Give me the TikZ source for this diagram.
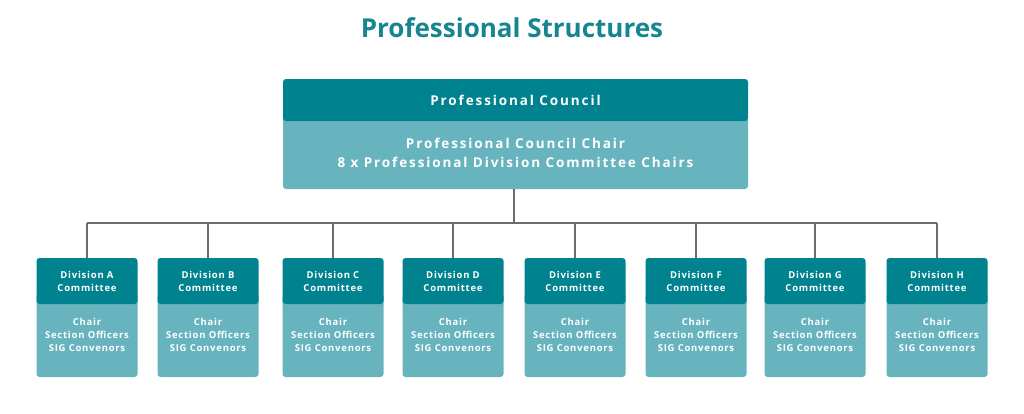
\documentclass[tikz,border=0pt]{standalone}
\usepackage{fontspec}
\setmainfont{Open Sans}
\newfontfamily\wide{Open Sans}[LetterSpace=14]
\newfontfamily\widesm{Open Sans}[LetterSpace=8]
\definecolor{dark}{HTML}{00838F}
\definecolor{light}{HTML}{68B4BE}
\definecolor{ttl}{HTML}{15868F}
\begin{document}
\begin{tikzpicture}[x=1pt,y=-1pt,
  dk/.style={fill=dark,rounded corners=3pt,inner sep=0pt,text=white},
  lt/.style={fill=light,rounded corners=3pt,inner sep=0pt,text=white},
  conn/.style={draw=gray!85!black,line width=1.6pt}]
\useasboundingbox (0,0) rectangle (1024,413);
\node[text=ttl,font=\bfseries\fontsize{26}{30}\selectfont] (title) at (512,28) {Professional Structures};
\node[lt,minimum width=465pt,minimum height=72pt,align=center,font=\wide\bfseries\fontsize{13.5}{19}\selectfont] (chairs) at (515.5,153) {Professional Council Chair\\8 x Professional Division Committee Chairs};
\node[dk,minimum width=465pt,minimum height=42pt,font=\wide\bfseries\fontsize{13.5}{16}\selectfont] (council) at (515.5,100) {Professional Council};
\coordinate (hub) at (514,223);
\draw[conn] (chairs.south -| hub) -- (hub);
\foreach \L/\x in {A/87,B/208,C/333,D/453,E/575,F/696,G/815,H/937}{
  \node[lt,minimum width=101pt,minimum height=84pt,align=center,font=\widesm\bfseries\fontsize{9.5}{13}\selectfont] (m\L) at (\x,335) {Chair\\Section Officers\\SIG Convenors};
  \node[dk,minimum width=101pt,minimum height=46pt,align=center,font=\widesm\bfseries\fontsize{9.5}{13}\selectfont] (d\L) at (\x,281) {Division \L\\Committee};
  \coordinate (t\L) at (\x,223);
  \draw[conn] (t\L) -- (d\L.north);
}
\draw[conn] (tA) -- (tH);
\end{tikzpicture}
\end{document}
